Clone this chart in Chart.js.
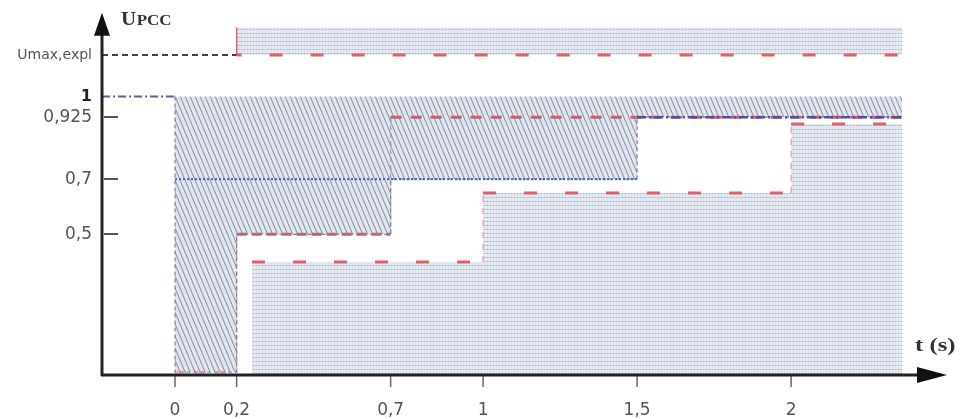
<!DOCTYPE html>
<html>
<head>
<meta charset="utf-8">
<script src="https://cdn.jsdelivr.net/npm/chart.js@4.4.1/dist/chart.umd.min.js"></script>
<style>
  html, body { margin: 0; padding: 0; background: #ffffff; }
  #wrap { width: 960px; height: 419px; }
</style>
</head>
<body>
<div id="wrap"><canvas id="c" width="960" height="419"></canvas></div>
<script>
// Time axis (s) and voltage axis (p.u.) ticks
const tTicks = [0, 0.2, 0.7, 1, 1.5, 2];
const tTickLabels = ['0', '0,2', '0,7', '1', '1,5', '2'];
const uTicks = [0.5, 0.7, 0.925, 1, 1.15];
const uTickLabels = ['0,5', '0,7', '0,925', '1', 'Umax,expl'];

// End of the drawn time span
const tEnd = 2.36;

// Hatched zone: from U = 1 down to this stepped boundary
const hatchT = [0, 0, 0.2, 0.7, 1.5, tEnd];
const hatchU = [1, 0, 0.5, 0.7, 0.925, 0.925];

// Red dashed profile bounding the hatched zone (corner points)
const redT = [0, 0.2, 0.2, 0.7, 0.7, tEnd];
const redU = [0, 0, 0.5, 0.5, 0.925, 0.925];

// Blue reference profile (pre-fault level, 0.7 plateau, recovery level)
const preFaultT = [-0.237, 0];
const preFaultU = [1, 1];
const plateauT = [0, 1.5];
const plateauU = [0.7, 0.7];
const recoveryT = [1.5, tEnd];
const recoveryU = [0.925, 0.925];

// Dotted zone under the lower stepped limit (corner points)
const lowT = [0.25, 1, 1, 2, 2, tEnd];
const lowU = [0.4, 0.4, 0.65, 0.65, 0.9, 0.9];

// Upper overvoltage band
const uMaxExpl = 1.15;
const bandTop = 1.25;
const bandT = [0.2, 0.2, tEnd];
const bandU = [bandTop, uMaxExpl, uMaxExpl];
const uMaxLeadT = [-0.237, 0.2];

const pts = (xs, ys) => xs.map((x, i) => ({ x: x, y: ys[i] }));
const isVert = c => c.p0.parsed.x === c.p1.parsed.x;

function hatchPattern() {
  const c = document.createElement('canvas');
  c.width = 5; c.height = 12;
  const g = c.getContext('2d');
  g.fillStyle = '#e1e5ee';
  g.fillRect(0, 0, 5, 12);
  g.strokeStyle = '#838ca3';
  g.lineWidth = 1;
  [-5, 0, 5].forEach(o => {
    g.beginPath();
    g.moveTo(o, 0);
    g.lineTo(o + 5, 12);
    g.stroke();
  });
  return g.createPattern(c, 'repeat');
}

function dotPattern() {
  const c = document.createElement('canvas');
  c.width = 3; c.height = 4;
  const g = c.getContext('2d');
  g.fillStyle = '#e3e7ef';
  g.fillRect(0, 0, 3, 4);
  g.fillStyle = '#d2d8e2';
  g.fillRect(0, 1, 3, 1);
  g.fillStyle = '#a0a9bd';
  g.fillRect(1, 1, 1, 1);
  return g.createPattern(c, 'repeat');
}

const hatch = hatchPattern();
const dots = dotPattern();

const decor = {
  id: 'decor',
  afterDraw(chart) {
    const ctx = chart.ctx;
    const xs = chart.scales.x, ys = chart.scales.y;
    const a = chart.chartArea;
    const x0 = a.left, yB = a.bottom;
    ctx.save();
    // y tick marks (inside)
    ctx.strokeStyle = '#555';
    ctx.lineWidth = 2;
    [0.5, 0.7, 0.925].forEach(v => {
      const y = Math.round(ys.getPixelForValue(v));
      ctx.beginPath(); ctx.moveTo(x0 + 2, y); ctx.lineTo(x0 + 16, y); ctx.stroke();
    });
    // x tick marks (below)
    ctx.lineWidth = 1.5;
    ctx.strokeStyle = '#666';
    tTicks.forEach(v => {
      const x = xs.getPixelForValue(v);
      ctx.beginPath(); ctx.moveTo(x, yB); ctx.lineTo(x, yB + 12); ctx.stroke();
    });
    // axes
    ctx.strokeStyle = '#222';
    ctx.fillStyle = '#111';
    ctx.lineWidth = 3;
    ctx.beginPath(); ctx.moveTo(x0, yB + 1); ctx.lineTo(x0, a.top + 20); ctx.stroke();
    ctx.beginPath(); ctx.moveTo(x0 - 1, yB); ctx.lineTo(a.right - 28, yB); ctx.stroke();
    // arrowheads
    ctx.beginPath();
    ctx.moveTo(x0, a.top - 1); ctx.lineTo(x0 - 8, a.top + 22); ctx.lineTo(x0 + 8, a.top + 22);
    ctx.closePath(); ctx.fill();
    ctx.beginPath();
    ctx.moveTo(a.right, yB); ctx.lineTo(a.right - 30, yB - 8); ctx.lineTo(a.right - 30, yB + 8);
    ctx.closePath(); ctx.fill();
    // axis titles
    ctx.fillStyle = '#333';
    ctx.textBaseline = 'alphabetic';
    ctx.save();
    ctx.translate(121, 25);
    ctx.scale(1.1, 1);
    ctx.font = 'bold 19px "Liberation Serif"';
    ctx.fillText('U', 0, 0);
    const uw = ctx.measureText('U').width;
    ctx.font = 'bold 14px "Liberation Serif"';
    ctx.scale(1.1, 1);
    ctx.fillText('PCC', uw / 1.1 + 0.5, 0);
    ctx.restore();
    ctx.save();
    ctx.translate(915, 351);
    ctx.scale(1.3, 1);
    ctx.font = 'bold 19px "Liberation Serif"';
    ctx.fillText('t (s)', 0, 0);
    ctx.restore();
    ctx.restore();
  }
};

const lineBase = { pointRadius: 0, fill: false, tension: 0 };

new Chart(document.getElementById('c'), {
  type: 'line',
  data: {
    datasets: [
      // lines on top
      Object.assign({}, lineBase, {
        data: pts(redT, redU), order: 1,
        borderColor: '#c8606a', borderWidth: 3, borderDash: [11, 9],
        segment: {
          borderColor: c => isVert(c) ? 'rgba(150,120,130,0.55)'
            : (c.p0.parsed.y === 0 ? 'rgba(230,120,130,0.45)'
            : (c.p0.parsed.y === 0.5 ? '#b86a74' : undefined)),
          borderWidth: c => isVert(c) ? 1.5 : undefined,
          borderDash: c => isVert(c) ? [5, 3] : (c.p0.parsed.y === 0.5 ? [10, 5] : undefined)
        }
      }),
      Object.assign({}, lineBase, {
        data: pts(preFaultT, preFaultU), order: 1,
        borderColor: '#7a4ea6', borderWidth: 2, borderDash: [8, 3, 2, 3]
      }),
      Object.assign({}, lineBase, {
        data: pts(plateauT, plateauU), order: 1,
        borderColor: '#4a5cc8', borderWidth: 2, borderDash: [2, 2]
      }),
      Object.assign({}, lineBase, {
        data: pts(recoveryT, recoveryU), order: 0,
        borderColor: '#5a4aa0', borderWidth: 2.5, borderDash: [9, 3, 2, 3]
      }),
      Object.assign({}, lineBase, {
        data: pts(uMaxLeadT, [uMaxExpl, uMaxExpl]), order: 1,
        borderColor: '#444', borderWidth: 2, borderDash: [6, 4]
      }),
      // filled zones
      Object.assign({}, lineBase, {
        data: pts(bandT, bandU), order: 3,
        fill: { value: bandTop }, backgroundColor: dots,
        borderColor: '#e0606a', borderWidth: 3, borderDash: [13, 28], borderDashOffset: 8,
        segment: {
          borderWidth: c => isVert(c) ? 1.5 : undefined,
          borderDash: c => isVert(c) ? [] : undefined
        }
      }),
      Object.assign({}, lineBase, {
        data: pts(lowT, lowU), order: 3,
        fill: 'start', backgroundColor: dots,
        borderColor: '#e0606a', borderWidth: 3, borderDash: [13, 28],
        segment: {
          borderColor: c => isVert(c) ? 'rgba(230,120,130,0.6)' : undefined,
          borderWidth: c => isVert(c) ? 1.5 : undefined,
          borderDash: c => isVert(c) ? [6, 6] : undefined
        }
      }),
      Object.assign({}, lineBase, {
        data: pts(hatchT, hatchU), stepped: true, order: 4,
        fill: { value: 1 }, backgroundColor: hatch,
        borderColor: '#7f8596', borderWidth: 1.2, borderDash: [4, 3]
      })
    ]
  },
  options: {
    responsive: false,
    animation: false,
    events: [],
    layout: { padding: { left: 0, right: 13, top: 13.7, bottom: 0 } },
    plugins: { legend: { display: false }, tooltip: { enabled: false } },
    scales: {
      x: {
        type: 'linear', min: -0.237, max: 2.506,
        afterBuildTicks: s => { s.ticks = tTicks.map(v => ({ value: v })); },
        afterFit: s => { s.height = 44; s.paddingLeft = 0; s.paddingRight = 0; },
        grid: { display: false, drawTicks: false },
        border: { display: false },
        ticks: {
          autoSkip: false, maxRotation: 0, padding: 25,
          color: '#555',
          font: { family: '"DejaVu Sans"', size: 17 },
          callback: (v, i) => tTickLabels[i]
        }
      },
      y: {
        type: 'linear', min: -0.01, max: 1.3,
        afterBuildTicks: s => { s.ticks = uTicks.map(v => ({ value: v })); },
        afterFit: s => { s.width = 102; s.paddingTop = 0; s.paddingBottom = 0; },
        grid: { display: false, drawTicks: false },
        border: { display: false },
        ticks: {
          autoSkip: false, padding: 10,
          color: c => (c.tick && c.tick.value === 1) ? '#222' : '#555',
          font: c => {
            const v = c.tick ? c.tick.value : 0;
            if (v === 1) return { family: '"DejaVu Sans"', size: 16, weight: 'bold' };
            if (v === uMaxExpl) return { family: '"DejaVu Sans"', size: 14 };
            return { family: '"DejaVu Sans"', size: 17 };
          },
          callback: (v, i) => uTickLabels[i]
        }
      }
    }
  },
  plugins: [decor]
});
</script>
</body>
</html>
